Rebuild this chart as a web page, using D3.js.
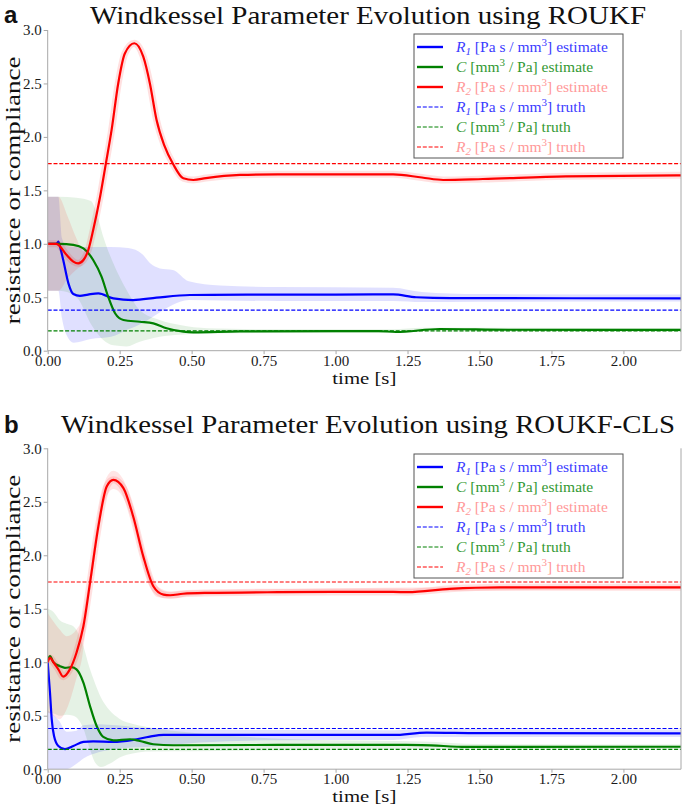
<!DOCTYPE html>
<html><head><meta charset="utf-8">
<script src="https://cdn.jsdelivr.net/npm/d3@7"></script>
<style>body{margin:0;background:#fff} svg{display:block} text{font-family:'Liberation Serif','DejaVu Serif',serif}</style>
</head><body><svg id="c" width="685" height="806"></svg>
<script>
// ---------- shared ticks / labels ----------
const xTicks = [0, 0.25, 0.5, 0.75, 1.0, 1.25, 1.5, 1.75, 2.0];
const yTicks = [0, 0.5, 1.0, 1.5, 2.0, 2.5, 3.0];
const xDomain = [0, 2.2];
const yDomain = [0, 3];
const titles = ["Windkessel Parameter Evolution using ROUKF", "Windkessel Parameter Evolution using ROUKF-CLS"];
const panelLetters = ["a", "b"];
const truthR1 = 0.38, truthC = 0.185, truthR2 = 1.75;

// ---------- panel a (ROUKF) ----------
const aR2_t = [0, 0.03, 0.066, 0.089, 0.106, 0.124, 0.141, 0.158, 0.182, 0.202, 0.222, 0.245, 0.268, 0.301, 0.332, 0.355, 0.378, 0.405, 0.436, 0.471, 0.506, 0.55, 0.668, 0.8, 1.0, 1.2, 1.3, 1.374, 1.512, 1.8, 2.2];
const aR2_v = [1.0, 1.0, 0.895, 0.833, 0.817, 0.848, 0.942, 1.129, 1.44, 1.75, 2.065, 2.5, 2.78, 2.876, 2.75, 2.5, 2.16, 1.92, 1.744, 1.613, 1.597, 1.615, 1.644, 1.65, 1.65, 1.65, 1.62, 1.597, 1.606, 1.631, 1.641];
const aR1_t = [0, 0.03, 0.037, 0.045, 0.054, 0.072, 0.089, 0.112, 0.14, 0.176, 0.228, 0.297, 0.378, 0.494, 0.7, 1.0, 1.2, 1.28, 1.4, 2.2];
const aR1_v = [1.0, 1.0, 1.02, 0.95, 0.848, 0.63, 0.53, 0.512, 0.525, 0.537, 0.49, 0.474, 0.496, 0.521, 0.524, 0.525, 0.527, 0.5, 0.492, 0.49];
const aC_t = [0, 0.04, 0.089, 0.124, 0.158, 0.187, 0.21, 0.234, 0.263, 0.32, 0.367, 0.413, 0.471, 0.506, 0.668, 1.0, 1.15, 1.21, 1.362, 1.6, 2.2];
const aC_v = [1.0, 1.0, 0.99, 0.958, 0.848, 0.692, 0.505, 0.35, 0.287, 0.271, 0.256, 0.21, 0.178, 0.172, 0.181, 0.184, 0.184, 0.175, 0.203, 0.196, 0.194];
// uncertainty bands
const aR1band_t  = [0, 0.037, 0.05, 0.065, 0.09, 0.15, 0.22, 0.28, 0.33, 0.355, 0.39, 0.435, 0.49, 0.6, 0.8, 1.2, 1.3, 1.5, 2.2];
const aR1band_hi = [1.44, 1.44, 1.05, 0.98, 0.97, 0.97, 0.97, 0.96, 0.9, 0.82, 0.77, 0.755, 0.65, 0.61, 0.595, 0.59, 0.55, 0.53, 0.525];
const aR1band_lo = [0.56, 0.56, 0.3, 0.15, 0.075, 0.11, 0.13, 0.2, 0.26, 0.3, 0.36, 0.43, 0.475, 0.47, 0.465, 0.465, 0.455, 0.458, 0.46];
const aCband_t  = [0, 0.04, 0.1, 0.15, 0.17, 0.193, 0.228, 0.274, 0.32, 0.389, 0.46, 0.556, 0.8, 1.2, 1.3, 2.2];
const aCband_hi = [1.44, 1.44, 1.43, 1.4, 1.285, 1.067, 0.818, 0.568, 0.38, 0.287, 0.24, 0.21, 0.2, 0.2, 0.215, 0.21];
const aCband_lo = [0.56, 0.56, 0.5, 0.25, 0.17, 0.1, 0.05, 0.04, 0.084, 0.131, 0.15, 0.16, 0.165, 0.165, 0.18, 0.178];
const aR2band_t  = [0, 0.037, 0.07, 0.1, 0.125, 0.145];
const aR2band_hi = [1.44, 1.44, 1.25, 1.05, 0.93, 0.97];
const aR2band_lo = [0.56, 0.56, 0.68, 0.76, 0.82, 0.95];

// ---------- panel b (ROUKF-CLS) ----------
const bR2_t = [0, 0.008, 0.02, 0.037, 0.054, 0.077, 0.1, 0.124, 0.147, 0.176, 0.205, 0.228, 0.263, 0.297, 0.332, 0.367, 0.402, 0.425, 0.47, 0.552, 0.8, 1.0, 1.2, 1.25, 1.397, 1.57, 1.8, 2.2];
const bR2_v = [1.0, 1.04, 1.0, 0.933, 0.865, 0.933, 1.089, 1.337, 1.742, 2.27, 2.643, 2.705, 2.628, 2.363, 1.99, 1.71, 1.632, 1.626, 1.64, 1.648, 1.655, 1.657, 1.657, 1.655, 1.686, 1.70, 1.70, 1.70];
const bR1_t = [0, 0.008, 0.014, 0.022, 0.037, 0.06, 0.089, 0.124, 0.158, 0.228, 0.297, 0.355, 0.402, 0.6, 1.0, 1.2, 1.316, 1.5, 2.2];
const bR1_v = [1.0, 0.715, 0.466, 0.31, 0.217, 0.187, 0.217, 0.255, 0.26, 0.255, 0.274, 0.305, 0.32, 0.32, 0.32, 0.32, 0.342, 0.337, 0.335];
const bC_t = [0, 0.008, 0.02, 0.043, 0.06, 0.083, 0.1, 0.124, 0.147, 0.17, 0.193, 0.228, 0.286, 0.32, 0.367, 0.436, 0.8, 1.2, 1.3, 1.455, 2.2];
const bC_v = [1.02, 1.057, 1.0, 0.963, 0.948, 0.954, 0.933, 0.81, 0.59, 0.404, 0.302, 0.27, 0.28, 0.264, 0.233, 0.224, 0.227, 0.227, 0.226, 0.208, 0.21];
const bR1band_t  = [0, 0.04, 0.066, 0.1, 0.124, 0.18, 0.24, 0.355, 0.53, 0.8, 1.2, 1.3, 2.2];
const bR1band_hi = [0.55, 0.45, 0.35, 0.36, 0.41, 0.42, 0.41, 0.38, 0.37, 0.366, 0.365, 0.375, 0.37];
const bR1band_lo = [0.0, 0.0, 0.0, 0.05, 0.1, 0.16, 0.19, 0.21, 0.25, 0.27, 0.272, 0.3, 0.3];
const bCband_t  = [0, 0.02, 0.043, 0.066, 0.089, 0.124, 0.145, 0.165, 0.185, 0.215, 0.25, 0.3, 0.355, 0.494, 0.7, 1.0, 1.3, 1.5, 2.2];
const bCband_hi = [1.5, 1.47, 1.39, 1.36, 1.337, 1.15, 0.95, 0.8, 0.67, 0.55, 0.47, 0.42, 0.39, 0.343, 0.3, 0.27, 0.26, 0.235, 0.23];
const bCband_lo = [0.53, 0.52, 0.5, 0.51, 0.5, 0.38, 0.2, 0.06, 0.02, 0.05, 0.11, 0.15, 0.165, 0.167, 0.175, 0.18, 0.19, 0.19, 0.19];
const bR2band_t  = [0, 0.02, 0.04, 0.066, 0.1, 0.12, 0.14, 0.17, 0.2, 0.228, 0.26, 0.3, 0.34, 0.38, 0.43, 0.5, 2.2];
const bR2band_hi = [1.46, 1.38, 1.31, 1.244, 1.306, 1.42, 1.72, 2.29, 2.7, 2.79, 2.72, 2.43, 1.99, 1.71, 1.66, 1.67, 1.715];
const bR2band_lo = [0.53, 0.5, 0.466, 0.56, 0.85, 1.05, 1.5, 2.08, 2.52, 2.62, 2.55, 2.26, 1.82, 1.61, 1.595, 1.625, 1.685];

// ---------- drawing ----------
const svg = d3.select("#c");
const COL = {R1: "#0000ff", C: "#008000", R2: "#ff0000"};
const TXT = {R1: "#3c3cff", C: "#339933", R2: "#ff9999"};

const panels = [
  {top: 30, bottom: 350.7, titleY: 24, letterY: 23, legendTop: 34,
   lines: {R1: [aR1_t, aR1_v], C: [aC_t, aC_v], R2: [aR2_t, aR2_v]},
   bands: {R1: [aR1band_t, aR1band_lo, aR1band_hi], C: [aCband_t, aCband_lo, aCband_hi], R2: [aR2band_t, aR2band_lo, aR2band_hi]}},
  {top: 448.3, bottom: 769.2, titleY: 433.3, letterY: 432.7, legendTop: 454,
   lines: {R1: [bR1_t, bR1_v], C: [bC_t, bC_v], R2: [bR2_t, bR2_v]},
   bands: {R1: [bR1band_t, bR1band_lo, bR1band_hi], C: [bCband_t, bCband_lo, bCband_hi], R2: [bR2band_t, bR2band_lo, bR2band_hi]}}
];
const left = 47.7, right = 681;

panels.forEach((p, i) => {
  const x = d3.scaleLinear().domain(xDomain).range([left, right]);
  const y = d3.scaleLinear().domain(yDomain).range([p.bottom, p.top]);
  const g = svg.append("g");
  const cid = "clip" + i;
  svg.append("defs").append("clipPath").attr("id", cid)
    .append("rect").attr("x", left).attr("y", p.top - 5).attr("width", right - left).attr("height", p.bottom - p.top + 5);
  const plot = g.append("g").attr("clip-path", `url(#${cid})`);

  // bands
  [["R1", 0.12], ["C", 0.1], ["R2", 0.1]].forEach(([k, op]) => {
    const [t, lo, hi] = p.bands[k];
    const pts = t.map((d, j) => ({t: d, lo: lo[j], hi: hi[j]}));
    plot.append("path").datum(pts)
      .attr("d", d3.area().x(d => x(d.t)).y0(d => y(d.lo)).y1(d => y(d.hi)).curve(d3.curveMonotoneX))
      .attr("fill", COL[k]).attr("fill-opacity", op).attr("stroke", "none");
  });
  // estimate lines
  const line = d3.line().x(d => x(d[0])).y(d => y(d[1])).curve(d3.curveMonotoneX);
  ["R1", "C", "R2"].forEach(k => {
    const [t, v] = p.lines[k];
    const pts = t.map((d, j) => [d, v[j]]);
    if (k === "R2") {
      plot.append("path").datum(pts).attr("d", line).attr("fill", "none")
        .attr("stroke", COL[k]).attr("stroke-opacity", 0.12).attr("stroke-width", 7);
    }
    plot.append("path").datum(pts).attr("d", line).attr("fill", "none")
      .attr("stroke", COL[k]).attr("stroke-width", 2.2);
  });
  // truth lines
  [["R1", truthR1], ["C", truthC], ["R2", truthR2]].forEach(([k, v]) => {
    plot.append("line").attr("x1", left).attr("x2", right).attr("y1", y(v)).attr("y2", y(v))
      .attr("stroke", COL[k]).attr("stroke-width", 1.1).attr("stroke-dasharray", "4,1.8");
  });

  // spines
  const spine = "#a8a8a8";
  g.append("line").attr("x1", left).attr("x2", left).attr("y1", p.top).attr("y2", p.bottom).attr("stroke", spine);
  g.append("line").attr("x1", right).attr("x2", right).attr("y1", p.top).attr("y2", p.bottom).attr("stroke", spine);
  g.append("line").attr("x1", left).attr("x2", right).attr("y1", p.bottom).attr("y2", p.bottom).attr("stroke", spine);

  // axes
  const xa = g.append("g").attr("transform", `translate(0,${p.bottom})`)
    .call(d3.axisBottom(x).tickValues(xTicks).tickFormat(d3.format(".2f")).tickSize(3.5).tickPadding(1));
  const ya = g.append("g").attr("transform", `translate(${left},0)`)
    .call(d3.axisLeft(y).tickValues(yTicks).tickFormat(d3.format(".1f")).tickSize(4).tickPadding(2));
  [xa, ya].forEach(a => {
    a.select(".domain").remove();
    a.selectAll(".tick line").attr("stroke", spine);
    a.selectAll(".tick text").attr("fill", "#1a1a1a").attr("font-size", 15)
      .style("font-family", "'Liberation Serif',serif");
  });

  // labels
  g.append("text").attr("x", (left + right) / 2).attr("y", p.bottom + 33.1)
    .attr("text-anchor", "middle").attr("font-size", 17).attr("fill", "#111")
    .attr("textLength", 64).attr("lengthAdjust", "spacingAndGlyphs").text("time [s]");
  g.append("text").attr("transform", `translate(20,${(p.top + p.bottom) / 2}) rotate(-90)`)
    .attr("text-anchor", "middle").attr("font-size", 20).attr("fill", "#111")
    .attr("textLength", 268).attr("lengthAdjust", "spacingAndGlyphs").text("resistance or compliance");
  g.append("text").attr("x", 368).attr("y", p.titleY).attr("text-anchor", "middle")
    .attr("font-size", 26).attr("fill", "#111")
    .attr("textLength", i === 0 ? 556 : 614).attr("lengthAdjust", "spacingAndGlyphs").text(titles[i]);
  g.append("text").attr("x", 4).attr("y", p.letterY).attr("font-size", 24).attr("font-weight", "bold")
    .style("font-family", "'Liberation Sans',Arial,sans-serif").attr("fill", "#111").text(panelLetters[i]);

  // legend
  const lg = g.append("g");
  const lt = p.legendTop;
  lg.append("rect").attr("x", 414).attr("y", lt).attr("width", 209).attr("height", 124)
    .attr("fill", "#fff").attr("stroke", "#555").attr("stroke-width", 1);
  const entries = [["R1", "estimate", false], ["C", "estimate", false], ["R2", "estimate", false],
                   ["R1", "truth", true], ["C", "truth", true], ["R2", "truth", true]];
  entries.forEach(([k, kind, dashed], j) => {
    const ry = lt + 13 + j * 20;
    lg.append("line").attr("x1", 417).attr("x2", 443).attr("y1", ry).attr("y2", ry)
      .attr("stroke", COL[k]).attr("stroke-width", dashed ? 1.1 : 2.4)
      .attr("stroke-dasharray", dashed ? "4,1.8" : null);
    const tx = lg.append("text").attr("x", 456).attr("y", ry + 5).attr("font-size", 15.5).attr("fill", TXT[k]);
    if (k === "C") {
      tx.append("tspan").attr("font-style", "italic").text("C");
      tx.append("tspan").text(" [mm");
      tx.append("tspan").attr("dy", -6).attr("font-size", 11).text("3");
      tx.append("tspan").attr("dy", 6).text(" / Pa] " + kind);
    } else {
      tx.append("tspan").attr("font-style", "italic").text("R");
      tx.append("tspan").attr("font-style", "italic").attr("dy", 3).attr("font-size", 11).text(k === "R1" ? "1" : "2");
      tx.append("tspan").attr("dy", -3).text(" [Pa s / mm");
      tx.append("tspan").attr("dy", -6).attr("font-size", 11).text("3");
      tx.append("tspan").attr("dy", 6).text("] " + kind);
    }
  });
});
</script></body></html>
